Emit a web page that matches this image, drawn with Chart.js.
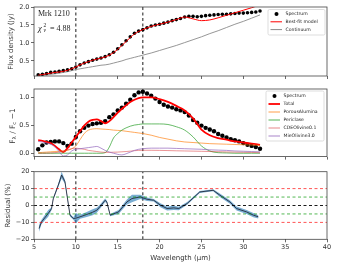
<!DOCTYPE html>
<html>
<head>
<meta charset="utf-8">
<script src="https://cdn.jsdelivr.net/npm/chart.js@4.4.1/dist/chart.umd.min.js"></script>
<style>
  body { margin: 0; background: #fff; }
  #fig { position: relative; width: 356px; height: 265px; overflow: hidden; }
  #fig canvas { position: absolute; left: 0; }
</style>
</head>
<body>
<div id="fig">
  <canvas id="fluxChart" width="356" height="82" style="top:0"></canvas>
  <canvas id="ratioChart" width="356" height="80" style="top:82px"></canvas>
  <canvas id="residChart" width="356" height="103" style="top:162px"></canvas>
</div>
<script>
// ---- data ----
var waveTicks = [5, 10, 15, 20, 25, 30, 35, 40];
var fluxTicks = [0.5, 1.0, 1.5, 2.0];
var ratioTicks = [0.0, 0.5, 1.0];
var residTicks = [-20, -10, 0, 10, 20];
var markWaves = [10, 18];

// spectrum (micron)
var specWave = [5.5,6,6.5,7,7.5,8,8.5,9,9.5,10,10.5,11,11.5,12,12.5,13,13.5,14,14.5,15,
  15.5,16,16.5,17,17.5,18,18.5,19,19.5,20,20.5,21,21.5,22,22.5,23,23.5,24,24.5,25,
  25.5,26,26.5,27,27.5,28,28.5,29,29.5,30,30.5,31,31.5,32];
var specFlux = [0.11,0.13,0.15,0.18,0.19,0.21,0.23,0.25,0.28,0.33,
  0.39,0.44,0.48,0.52,0.55,0.58,0.62,0.67,0.74,0.84,
  0.95,1.06,1.17,1.27,1.33,1.37,1.42,1.47,1.50,1.52,
  1.55,1.58,1.62,1.65,1.68,1.72,1.74,1.74,1.73,1.74,
  1.76,1.77,1.78,1.79,1.80,1.80,1.81,1.82,1.83,1.83,
  1.84,1.85,1.86,1.89];
var specRatio = [0.08,0.15,0.20,0.21,0.22,0.22,0.19,0.14,0.18,0.30,
  0.40,0.46,0.50,0.53,0.54,0.55,0.58,0.65,0.70,0.77,
  0.82,0.89,0.96,1.04,1.09,1.10,1.07,1.03,0.98,0.92,
  0.87,0.84,0.82,0.79,0.77,0.74,0.68,0.60,0.55,0.50,
  0.46,0.43,0.40,0.35,0.32,0.29,0.26,0.24,0.22,0.19,
  0.16,0.14,0.12,0.09];

// model grid
var modelWave = [5.5,6,6.5,7,7.5,8,8.5,9,9.5,10,10.5,11,11.5,12,12.5,13,13.5,14,14.5,15,
  15.5,16,16.5,17,17.5,18,19,20,21,22,23,24,25,26,27,28,29,30,31,32];
var bestFit = [0.10,0.12,0.14,0.16,0.18,0.19,0.21,0.24,0.28,0.33,
  0.39,0.44,0.48,0.52,0.55,0.58,0.61,0.66,0.73,0.82,
  0.93,1.04,1.15,1.25,1.32,1.37,
  1.46,1.52,1.58,1.65,1.72,1.67,1.62,1.64,1.70,1.77,1.84,1.91,1.98,2.06];
var continuum = [0.09,0.10,0.11,0.13,0.14,0.16,0.18,0.20,0.23,0.26,
  0.28,0.30,0.32,0.34,0.36,0.38,0.39,0.41,0.44,0.47,
  0.50,0.54,0.57,0.60,0.63,0.66,
  0.72,0.79,0.86,0.93,1.01,1.09,1.17,1.26,1.34,1.43,1.52,1.60,1.69,1.78];
var total = [0.24,0.23,0.21,0.19,0.14,0.08,0.03,0.10,0.20,0.30,
  0.40,0.50,0.57,0.60,0.61,0.58,0.54,0.58,0.65,0.73,
  0.80,0.86,0.92,0.96,0.99,1.00,
  1.00,0.97,0.92,0.85,0.77,0.63,0.43,0.33,0.28,0.25,0.22,0.20,0.18,0.16];
var porousAlumina = [0.02,0.025,0.03,0.035,0.04,0.045,0.05,0.06,0.09,0.14,
  0.25,0.36,0.42,0.44,0.445,0.44,0.435,0.43,0.42,0.415,
  0.41,0.40,0.39,0.38,0.37,0.36,
  0.33,0.29,0.26,0.23,0.21,0.20,0.19,0.18,0.175,0.17,0.165,0.16,0.155,0.15];
var periclase = [0.01,0.01,0.01,0.01,0.01,0.01,0.01,0.01,0.01,0.01,
  0.01,0.01,0.01,0.01,0.01,0.01,0.02,0.12,0.28,0.36,
  0.42,0.46,0.49,0.51,0.52,0.53,
  0.53,0.53,0.52,0.48,0.42,0.30,0.14,0.05,0.02,0.015,0.01,0.01,0.01,0.01];
var cdeOlivine = [0.01,0.01,0.012,0.015,0.02,0.03,0.05,0.07,0.09,0.10,
  0.09,0.08,0.06,0.05,0.04,0.03,0.025,0.025,0.028,0.03,
  0.035,0.04,0.047,0.055,0.06,0.062,
  0.062,0.06,0.057,0.053,0.05,0.047,0.044,0.04,0.037,0.033,0.03,0.027,0.024,0.02];
var mieOlivine = [0.22,0.21,0.19,0.17,0.12,0.04,-0.04,-0.02,0.05,0.08,
  0.09,0.10,0.11,0.12,0.13,0.10,0.06,0.03,0.01,-0.01,
  -0.02,0.0,0.03,0.06,0.08,0.09,
  0.10,0.10,0.10,0.095,0.09,0.085,0.08,0.07,0.065,0.06,0.05,0.045,0.04,0.035];

// residuals (%)
var resWave = [5.6,5.9,6.7,7.1,7.3,7.9,8.3,8.7,9.3,9.7,10.0,10.5,11.3,12.0,12.5,13.0,13.5,13.7,14.1,15.1,
  16.1,16.7,17.7,18.5,19.3,20.1,20.9,21.7,22.3,23.3,24.8,26.4,27.2,28.4,29.2,30.4,31.2,31.8];
var resVal = [-13.6,-9.7,-4.7,-1.8,4.0,12.0,18.0,14.0,-5.7,-7.7,-7.5,-6.7,-5.3,-4.0,-2.8,0.0,3.1,2.1,-5.7,-3.8,
  2.1,4.1,5.1,3.7,3.1,0.2,-1.8,-1.4,-1.8,1.2,8.0,9.0,6.1,2.1,-1.8,-3.8,-5.7,-6.7];
var resErr = [2,1.2,2,0.8,0.8,1,2,1.2,0.8,0.8,3,1.2,1.5,1.8,1.5,1.2,1,0.8,0.6,1.2,
  1.5,2.2,1.2,1,0.8,1.2,1.2,1.2,1,0.8,0.6,0.6,1,1,1.2,1.2,1.2,1];
var residBands = [10, 5, 0, -5, -10];
var bandColors = ['rgba(255,0,0,0.75)', 'rgba(0,150,0,0.75)', '#000', 'rgba(0,150,0,0.75)', 'rgba(255,0,0,0.75)'];

// ---- helpers ----
Chart.defaults.font.family = '"DejaVu Sans", sans-serif';
Chart.defaults.font.size = 6.5;
Chart.defaults.color = '#333';

function pts(xs, ys) {
  return xs.map(function(x, i) { return {x: x, y: ys[i]}; });
}

function vline(x, y0, y1) {
  return { data: [{x: x, y: y0}, {x: x, y: y1}], showLine: true, borderColor: '#000',
    borderWidth: 0.9, borderDash: [3, 2.5], pointRadius: 0, order: 6 };
}

function hline(y, color) {
  return { data: [{x: 5, y: y}, {x: 40, y: y}], showLine: true, borderColor: color,
    borderWidth: 0.9, borderDash: [3, 2.5], pointRadius: 0, order: 1 };
}

function curve(ys, color, width, order) {
  return { data: pts(modelWave, ys), showLine: true, borderColor: color, borderWidth: width,
    pointRadius: 0, cubicInterpolationMode: 'monotone', order: order };
}

function xAxis(showLabels, height) {
  return {
    type: 'linear', min: 5, max: 40,
    afterBuildTicks: function(s) { s.ticks = waveTicks.map(function(v) { return {value: v}; }); },
    afterFit: function(s) { s.height = height; },
    ticks: { display: showLabels, padding: 1, maxRotation: 0 },
    grid: { drawOnChartArea: false, tickLength: 3, color: '#444', lineWidth: 0.8 },
    border: { display: false },
    title: { display: showLabels, text: 'Wavelength (\u03bcm)', padding: {top: 0, bottom: 3}, font: {size: 7} }
  };
}

function yAxis(min, max, tickVals, fmt, titleText, titlePad) {
  return {
    min: min, max: max,
    afterBuildTicks: function(s) { s.ticks = tickVals.map(function(v) { return {value: v}; }); },
    afterFit: function(s) { s.width = 34; },
    ticks: { padding: 1.5, callback: fmt },
    grid: { drawOnChartArea: false, tickLength: 3, color: '#444', lineWidth: 0.8 },
    border: { display: false },
    title: { display: !!titleText, text: titleText, padding: {top: titlePad, bottom: 0}, font: {size: 7} }
  };
}

var framePlugin = {
  id: 'frame',
  afterDatasetsDraw: function(chart) {
    var a = chart.chartArea, ctx = chart.ctx;
    ctx.save();
    ctx.strokeStyle = '#444';
    ctx.lineWidth = 0.8;
    ctx.strokeRect(a.left, a.top, a.right - a.left, a.bottom - a.top);
    ctx.restore();
  }
};

function boxLegend(items, box) {
  return {
    id: 'boxLegend',
    afterDraw: function(chart) {
      var ctx = chart.ctx;
      ctx.save();
      ctx.beginPath();
      ctx.roundRect(box.x, box.y, box.w, box.h, 1.5);
      ctx.fillStyle = 'rgba(255,255,255,0.9)';
      ctx.fill();
      ctx.strokeStyle = '#d4d4d4';
      ctx.lineWidth = 0.8;
      ctx.stroke();
      ctx.font = '4.6px "DejaVu Sans"';
      ctx.textBaseline = 'middle';
      items.forEach(function(it, i) {
        var y = box.y + box.first + i * box.step;
        if (it.dot) {
          ctx.beginPath();
          ctx.arc(box.x + 8.5, y, 2, 0, Math.PI * 2);
          ctx.fillStyle = '#000';
          ctx.fill();
        } else {
          ctx.beginPath();
          ctx.moveTo(box.x + 2.5, y);
          ctx.lineTo(box.x + 14, y);
          ctx.strokeStyle = it.color;
          ctx.lineWidth = it.width;
          ctx.stroke();
        }
        ctx.fillStyle = '#222';
        ctx.fillText(it.text, box.x + 17.5, y);
      });
      ctx.restore();
    }
  };
}

var baseOpts = function(pad) {
  return {
    responsive: false, animation: false, events: [],
    layout: { padding: {top: pad.top, right: 29, bottom: pad.bottom, left: 0} },
    plugins: { legend: {display: false}, tooltip: {enabled: false} }
  };
};

// ---- panel 1: flux ----
var labelPlugin = {
  id: 'srcLabel',
  afterDraw: function(chart) {
    var ctx = chart.ctx;
    ctx.save();
    ctx.fillStyle = '#222';
    ctx.textBaseline = 'middle';
    ctx.font = '8px "Liberation Serif"';
    ctx.fillText('Mrk 1210', 38, 14);
    ctx.font = 'italic 8.5px "Liberation Serif"';
    ctx.fillText('\u03c7', 38, 28.5);
    ctx.font = '5.5px "Liberation Serif"';
    ctx.fillText('2', 43.5, 25.5);
    ctx.font = 'italic 5.5px "Liberation Serif"';
    ctx.fillText('\u03bd', 43.5, 31);
    ctx.font = '8px "Liberation Serif"';
    ctx.fillText('= 4.88', 50, 28.5);
    ctx.restore();
  }
};

var o1 = baseOpts({top: 7, bottom: 2});
o1.scales = {
  x: xAxis(false, 4),
  y: yAxis(0.08, 2.0, fluxTicks, function(v) { return v.toFixed(1); }, 'Flux density (Jy)', 6.8)
};
new Chart(document.getElementById('fluxChart'), {
  type: 'scatter',
  data: { datasets: [
    curve(bestFit, 'red', 1, 1),
    { data: pts(specWave, specFlux), pointRadius: 1.8, pointBackgroundColor: '#000', pointBorderWidth: 0, order: 2 },
    curve(continuum, '#8a8a8a', 0.9, 3),
    vline(markWaves[0], 0.08, 2.0),
    vline(markWaves[1], 0.08, 2.0)
  ]},
  options: o1,
  plugins: [framePlugin, labelPlugin, boxLegend([
    {dot: true, text: 'Spectrum'},
    {color: 'red', width: 1, text: 'Best-fit model'},
    {color: '#8a8a8a', width: 1, text: 'Continuum'}
  ], {x: 268, y: 9.5, w: 57, h: 25.5, first: 4.5, step: 7.8})]
});

// ---- panel 2: F_lambda / F_c - 1 ----
var ratioTitle = {
  id: 'ratioTitle',
  afterDraw: function(chart) {
    var ctx = chart.ctx;
    var parts = [['F', 7.5, 0], ['\u03bb', 5.3, 2], [' / F', 7.5, 0], ['c', 5.3, 2], [' \u22121', 7.5, 0]];
    ctx.save();
    ctx.translate(13, 44);
    ctx.rotate(-Math.PI / 2);
    ctx.textBaseline = 'middle';
    ctx.fillStyle = '#333';
    var w = 0;
    parts.forEach(function(p) { ctx.font = p[1] + 'px "DejaVu Sans"'; w += ctx.measureText(p[0]).width; });
    var x = -w / 2;
    parts.forEach(function(p) {
      ctx.font = p[1] + 'px "DejaVu Sans"';
      ctx.fillText(p[0], x, p[2]);
      x += ctx.measureText(p[0]).width;
    });
    ctx.restore();
  }
};

var o2 = baseOpts({top: 7, bottom: 1});
o2.scales = {
  x: xAxis(false, 4),
  y: yAxis(-0.05, 1.15, ratioTicks, function(v) { return v.toFixed(1); }, '', 0)
};
new Chart(document.getElementById('ratioChart'), {
  type: 'scatter',
  data: { datasets: [
    curve(mieOlivine, 'rgba(148,103,189,0.8)', 0.9, 1),
    curve(cdeOlivine, 'rgba(214,39,40,0.55)', 0.9, 1),
    curve(periclase, 'rgba(44,160,44,0.8)', 0.9, 1),
    curve(porousAlumina, 'rgba(255,127,14,0.75)', 0.9, 1),
    curve(total, 'red', 1.8, 2),
    { data: pts(specWave, specRatio), pointRadius: 2.2, pointBackgroundColor: '#000', pointBorderWidth: 0, order: 3 },
    { data: pts(specWave, specRatio), showLine: true, borderColor: 'rgba(31,119,180,0.35)', borderWidth: 1, pointRadius: 0, order: 4 },
    vline(markWaves[0], -0.05, 1.15),
    vline(markWaves[1], -0.05, 1.15)
  ]},
  options: o2,
  plugins: [framePlugin, ratioTitle, boxLegend([
    {dot: true, text: 'Spectrum'},
    {color: 'red', width: 1.8, text: 'Total'},
    {color: 'rgba(255,127,14,0.75)', width: 1, text: 'PorousAlumina'},
    {color: 'rgba(44,160,44,0.8)', width: 1, text: 'Periclase'},
    {color: 'rgba(214,39,40,0.55)', width: 1, text: 'CDEOlivine0.1'},
    {color: 'rgba(148,103,189,0.8)', width: 1, text: 'MieOlivine3.0'}
  ], {x: 266, y: 9, w: 58, h: 50, first: 5, step: 8})]
});

// ---- panel 3: residuals ----
var resUpper = resVal.map(function(v, i) { return v + resErr[i]; });
var resLower = resVal.map(function(v, i) { return v - resErr[i]; });

var o3 = baseOpts({top: 9.7, bottom: 0});
o3.scales = {
  x: xAxis(true, 25.7),
  y: yAxis(-20, 20, residTicks, function(v) { return v < 0 ? '\u2212' + (-v) : '' + v; }, 'Residual (%)', 4)
};
var residSets = [
  { data: pts(resWave, resVal), showLine: true, borderColor: '#1b1b2a', borderWidth: 0.8, pointRadius: 0, order: 2 },
  { data: pts(resWave, resUpper), showLine: true, borderWidth: 0, pointRadius: 0, fill: false, order: 3 },
  { data: pts(resWave, resLower), showLine: true, borderWidth: 0, pointRadius: 0,
    backgroundColor: 'rgba(31,119,180,0.6)', fill: '-1', order: 3 },
  vline(markWaves[0], -20, 20),
  vline(markWaves[1], -20, 20)
];
residBands.forEach(function(y, i) { residSets.push(hline(y, bandColors[i])); });

new Chart(document.getElementById('residChart'), {
  type: 'scatter',
  data: { datasets: residSets },
  options: o3,
  plugins: [framePlugin]
});
</script>
</body>
</html>
